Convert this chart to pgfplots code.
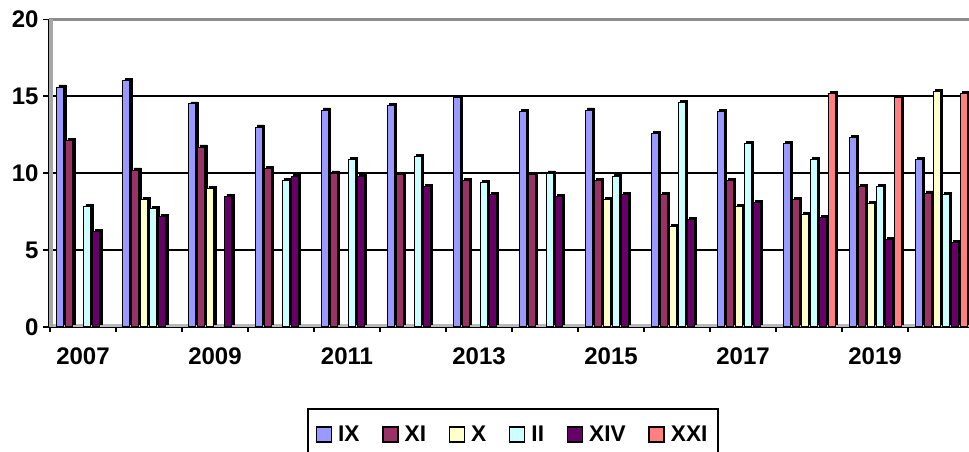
\documentclass[border=0pt]{standalone}
\usepackage{pgfplots}
\usepackage{pgfplotstable}
\pgfplotsset{compat=1.18}
\usepackage{fontspec}
\setmainfont{Liberation Sans}

\definecolor{cIX}{HTML}{9999FF}
\definecolor{cXI}{HTML}{993366}
\definecolor{cX}{HTML}{FFFFCC}
\definecolor{cII}{HTML}{CCFFFF}
\definecolor{cXIV}{HTML}{660066}
\definecolor{cXXI}{HTML}{FF8080}

\pgfplotstableread{
x  IX    XI    X     II    XIV   XXI
0  15.6  12.1  nan   7.8   6.2   nan
1  16.0  10.2  8.3   7.7   7.2   nan
2  14.5  11.7  9.0   nan   8.5   nan
3  13.0  10.3  nan   9.5   9.8   nan
4  14.1  10.0  nan   10.9  9.8   nan
5  14.4  9.9   nan   11.1  9.1   nan
6  14.9  9.5   nan   9.4   8.6   nan
7  14.0  9.9   nan   10.0  8.5   nan
8  14.1  9.5   8.3   9.8   8.6   nan
9  12.6  8.6   6.5   14.6  7.0   nan
10 14.0  9.5   7.8   11.9  8.1   nan
11 11.9  8.3   7.3   10.9  7.1   15.2
12 12.3  9.1   8.0   9.1   5.7   14.9
13 10.9  8.7   15.3  8.6   5.5   15.2
}\datatable

\newcommand{\series}[4]{%
\addplot[ybar, bar width=5.25pt, bar shift=#4pt, fill=black, draw=black, line width=0.5pt, yshift=1.6pt, forget plot] table[x=x, y=#1] {\datatable};
\addplot[ybar, bar width=5.25pt, bar shift=#3pt, fill=#2, draw=black, line width=0.75pt, legend image code/.code={\draw[fill=#2, draw=black, line width=1.1pt] (0pt,-5.6pt) rectangle (11.25pt,5.6pt);}] table[x=x, y=#1] {\datatable};
\addlegendentry{#1}
}

\begin{document}
\begin{tikzpicture}
\path[use as bounding box, clip] (-36.9pt,-93.9pt) rectangle (689.85pt,245.1pt);
\begin{axis}[
  at={(0,0)}, anchor=south west,
  scale only axis, width=689.85pt, height=230.5pt,
  xmin=-0.512, xmax=13.424, ymin=0, ymax=20,
  axis x line*=bottom, axis y line*=left,
  axis line style={black, line width=1.4pt},
  ytick={0,5,10,15},
  extra y ticks={20},
  extra y tick style={grid=major, major grid style={draw=gray!90, line width=2.2pt}},
  ymajorgrids,
  major grid style={draw=black, line width=1.4pt},
  xtick={0,2,4,6,8,10,12},
  xticklabels={2007,2009,2011,2013,2015,2017,2019},
  minor xtick={-0.5,0.5,...,13.5},
  major x tick style={draw=none},
  minor x tick style={black, line width=1.2pt},
  y tick style={black, line width=1.2pt},
  tick align=outside,
  major tick length=4.5pt,
  minor tick length=3.75pt,
  /pgf/number format/assume math mode=true,
  ticklabel style={font=\fontsize{18}{20}\selectfont\bfseries},
  xticklabel style={yshift=-7.5pt},
  legend columns=6,
  legend style={at={(rel axis cs:0.5041,-0.2642)}, anchor=north,
    draw=black, line width=1.5pt, inner xsep=6pt, inner ysep=10.5pt,
    font=\fontsize{17}{19}\selectfont\bfseries,
    /tikz/every odd column/.append style={column sep=2.5pt},
    /tikz/every even column/.append style={column sep=15pt}},
]
\fill[gray!55] (axis cs:-0.512,0) rectangle (axis cs:13.424,0.19);
\fill[gray!70] (axis cs:-0.512,0) rectangle (axis cs:-0.45,20);
\series{IX}{cIX}{-16.875}{-15.375}
\series{XI}{cXI}{-10.125}{-8.625}
\series{X}{cX}{-3.375}{-1.875}
\series{II}{cII}{3.375}{4.875}
\series{XIV}{cXIV}{10.125}{11.625}
\series{XXI}{cXXI}{16.875}{18.375}
\end{axis}
\end{tikzpicture}
\end{document}
